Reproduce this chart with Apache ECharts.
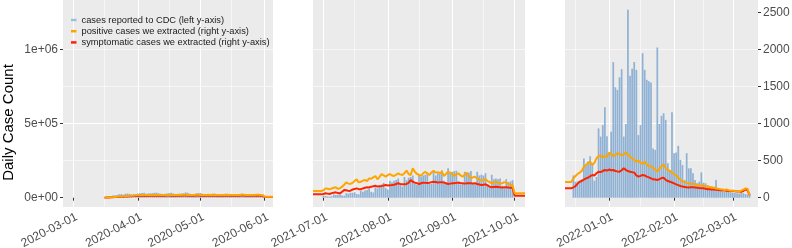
<!DOCTYPE html>
<html><head><meta charset="utf-8">
<script src="https://cdn.jsdelivr.net/npm/echarts@6/dist/echarts.min.js"></script>
<style>html,body{margin:0;padding:0;background:#fff}#c{width:792px;height:248px}</style>
</head><body><div id="c"></div>
<script>
// ---------- data ----------
const panelRanges = [['2020-02-25','2020-06-05'], ['2021-06-26','2021-10-06'], ['2021-12-11','2022-03-13']];
const xTicks1 = ['2020-03-01','2020-04-01','2020-05-01','2020-06-01'];
const xTicks2 = ['2021-07-01','2021-08-01','2021-09-01','2021-10-01'];
const xTicks3 = ['2022-01-01','2022-02-01','2022-03-01'];
const xMinor1 = ['2020-03-16','2020-04-16','2020-05-16'];
const xMinor2 = ['2021-07-16','2021-08-16','2021-09-16'];
const xMinor3 = ['2021-12-16','2022-01-16','2022-02-15'];
const yLeftTicks = [0, 500000, 1000000];
const yLeftLabels = ['0e+00', '5e+05', '1e+06'];
const yRightTicks = [0, 500, 1000, 1500, 2000, 2500];
const secFactor = 500; // cases per right-axis unit

// Panel 1 (2020)
const cdc1Start = '2020-03-16';
const cdc1 = [4500,5500,7000,10000,14000,17000,19000,23000,24000,20000,27000,28000,26000,22000,25000,25000,
 28000,30000,32000,33000,27000,29000,30000,31000,33000,34000,30000,27000,25000,26000,29000,30000,33000,29000,26000,26000,27000,28000,30000,36000,33000,27000,23000,25000,28000,30000,
 32000,28000,25000,22000,23000,25000,27000,28000,25000,21000,19000,21000,22000,27000,25000,24000,22000,21000,21000,22000,28000,24000,22000,20000,19000,17000,19000,21000,23000,24000,22000];
const pos1Start = '2020-03-16';
const pos1 = [0,3,4,7,8,11,12,15,16,19,21,22,26,27,31,32,
 34,33,36,38,33,35,37,36,39,38,35,33,36,37,38,40,38,35,34,37,39,38,40,41,37,35,36,38,40,39,
 38,36,34,37,39,38,40,37,35,34,36,38,39,37,36,35,33,36,38,37,39,41,38,36,35,37,38,40,39,36,34,
 14,14,14,14,14];
const sym1Start = '2020-03-16';
const sym1 = [0,2,3,5,6,8,9,11,12,14,15,17,19,20,22,23,
 24,23,26,27,24,25,27,26,28,27,25,24,26,27,28,29,27,25,24,26,28,27,29,29,26,25,26,27,29,28,
 27,26,24,26,28,27,29,26,25,24,26,27,28,26,25,25,23,26,27,26,28,29,27,25,25,26,27,28,27,25,24,
 8,8,8,8,8];

// Panel 2 (2021 summer)
const cdc2Start = '2021-07-01';
const cdc2 = [14000,12000,9000,8000,10000,22000,18000,
 20000,24000,15000,13000,30000,28000,33000,
 33000,36000,25000,22000,47000,40000,48000,
 52000,60000,40000,35000,70000,62000,80000,
 88000,100000,65000,55000,115000,105000,115000,
 120000,130000,85000,75000,140000,118000,135000,
 140000,150000,95000,85000,160000,140000,150000,
 155000,170000,105000,95000,175000,150000,165000,
 165000,185000,115000,100000,198000,170000,175000,
 180000,182000,110000,90000,95000,175000,165000,
 170000,180000,100000,88000,175000,150000,155000,
 150000,165000,90000,80000,155000,125000,130000,
 125000,130000,80000,70000,125000,105000,110000,
 118000];
const pos2Start = '2021-06-26';
const pos2 = [90,90,90,90,90,
 100,126,120,113,125,135,140,117,130,149,
 175,207,190,185,200,225,248,207,215,230,
 239,225,261,255,275,293,248,280,320,300,
 284,305,320,300,293,310,329,315,306,330,
 365,320,306,396,350,320,310,293,330,351,
 325,306,340,365,338,345,330,351,293,320,
 351,335,320,293,315,329,300,284,310,338,
 290,261,275,284,260,245,230,240,248,225,
 210,194,205,216,200,190,194,210,203,185,175,171,
 59,59,59,60,60,60];
const sym2Start = '2021-06-26';
const sym2 = [45,45,45,45,45,
 50,59,55,50,62,68,72,62,59,80,
 104,100,92,95,110,118,126,115,113,125,
 135,140,138,149,155,162,150,155,158,165,
 171,165,168,171,175,185,194,185,180,182,
 185,200,239,215,203,195,185,195,203,200,
 198,203,210,216,212,205,207,210,203,195,
 185,190,194,196,200,203,198,194,190,194,
 196,194,192,194,185,178,171,175,180,165,
 150,140,145,149,145,140,138,140,142,138,135,133,
 27,27,27,27,27,27];

// Panel 3 (2021-22 winter)
const cdc3Start = '2021-12-15';
const cdc3 = [150000,107500,110000,115000,125000,265000,215000,245000,280000,235000,115000,140000,
 467500,412500,490000,610000,415000,300000,445000,915000,745000,727500,812500,867500,412500,497500,
 1267500,822500,870000,915000,862500,422500,490000,975000,862500,795000,785000,777500,332500,322500,
 1013500,497500,552500,570000,525000,232500,187500,576500,300000,305000,350000,255000,220000,120000,
 300000,198000,198000,165000,120000,97500,108000,171000,101500,97500,85000,75000,60000,63000,119500,
 56500,52000,47500,40500,40000,45000,37500,35000,32500,30000,27500,32500,30000,25000,22500,27500];
const pos3Start = '2021-12-11';
const pos3 = [212,212,212,212,
 260,293,320,338,360,420,441,470,486,
 441,470,530,563,570,545,560,554,
 608,590,560,577,600,590,570,585,608,
 580,550,532,510,486,500,470,455,486,450,
 419,430,400,380,351,390,419,450,400,374,360,338,320,
 300,270,240,220,210,200,195,185,190,180,175,168,160,165,155,150,145,140,135,125,
 120,115,110,104,110,100,95,98,90,85,88,95,110,126,120,36];
const sym3Start = '2021-12-11';
const sym3 = [126,126,126,126,
 140,155,190,216,225,245,261,270,290,306,
 300,330,351,345,360,374,365,380,370,374,
 360,355,351,370,396,375,360,351,345,338,
 300,284,295,306,300,285,275,260,248,245,
 239,250,265,270,240,225,216,205,194,180,
 170,158,150,145,140,138,142,140,138,135,
 130,126,128,120,115,113,110,112,108,104,
 100,104,98,95,92,90,90,88,85,82,
 81,90,113,100,36];

const seriesNames = ['cases reported to CDC (left y-axis)', 'positive cases we extracted (right y-axis)', 'symptomatic cases we extracted (right y-axis)'];
const yTitle = 'Daily Case Count';

// ---------- helpers ----------
function dayRange(a, b) {
  const out = []; let t = Date.parse(a + 'T00:00:00Z'); const e = Date.parse(b + 'T00:00:00Z');
  while (t <= e) { out.push(new Date(t).toISOString().slice(0, 10)); t += 86400000; }
  return out;
}
function alignTo(dates, start, values) {
  const idx = dates.indexOf(start);
  return dates.map((d, i) => { const k = i - idx; return (k >= 0 && k < values.length) ? values[k] : '-'; });
}

const panels = [
  { cdc: [cdc1Start, cdc1], pos: [pos1Start, pos1], sym: [sym1Start, sym1], ticks: xTicks1, minor: xMinor1 },
  { cdc: [cdc2Start, cdc2], pos: [pos2Start, pos2], sym: [sym2Start, sym2], ticks: xTicks2, minor: xMinor2 },
  { cdc: [cdc3Start, cdc3], pos: [pos3Start, pos3], sym: [sym3Start, sym3], ticks: xTicks3, minor: xMinor3 }
];

// ---------- style ----------
const FONT = 'Liberation Sans';
const BAR = 'rgb(143,177,212)';
const ORANGE = '#FFA500';
const RED = '#FF2400';
const leftMin = -62750, leftMax = 1333800;
const gridBoxes = [ {left: 63, width: 210}, {left: 313, width: 212}, {left: 565, width: 193} ];
const gridTop = 0, gridHeight = 207;

const grid = [], xAxis = [], yAxis = [], series = [];
panels.forEach((p, g) => {
  const dates = dayRange(panelRanges[g][0], panelRanges[g][1]);
  grid.push({ left: gridBoxes[g].left, width: gridBoxes[g].width, top: gridTop, height: gridHeight,
    show: true, backgroundColor: '#EBEBEB', borderWidth: 0, containLabel: false, outerBoundsMode: 'none' });
  const isTick = (i, v) => p.ticks.indexOf(v) >= 0;
  xAxis.push({ type: 'category', gridIndex: g, data: dates, boundaryGap: false,
    axisLine: { show: false },
    axisTick: { show: true, interval: isTick, length: 3, lineStyle: { color: '#333', width: 1 } },
    axisLabel: { show: false, interval: isTick },
    splitLine: { show: true, interval: isTick, lineStyle: { color: '#FFFFFF', width: 1.1 } } });
  xAxis.push({ type: 'category', gridIndex: g, data: dates, boundaryGap: false, position: 'bottom',
    axisLine: { show: false }, axisTick: { show: false }, axisLabel: { show: false },
    splitLine: { show: true, interval: (i, v) => p.minor.indexOf(v) >= 0, lineStyle: { color: '#FFFFFF', width: 0.55 } } });
  yAxis.push({ type: 'value', gridIndex: g, position: 'left', min: leftMin, max: leftMax,
    minInterval: 500000, maxInterval: 500000,
    axisLine: { show: false },
    axisTick: { show: g === 0, length: 3, customValues: yLeftTicks, lineStyle: { color: '#333', width: 1 } },
    axisLabel: { show: g === 0, customValues: yLeftTicks, fontSize: 12, color: '#4D4D4D', fontFamily: FONT, margin: 5,
      formatter: v => yLeftLabels[yLeftTicks.indexOf(v)] || '' },
    splitLine: { show: true, showMinLine: false, showMaxLine: false, lineStyle: { color: '#FFFFFF', width: 1.1 } } });
  yAxis.push({ type: 'value', gridIndex: g, position: 'right', min: leftMin / secFactor, max: leftMax / secFactor,
    minInterval: 500, maxInterval: 500,
    axisLine: { show: false },
    axisTick: { show: g === 2, length: 3, customValues: yRightTicks, lineStyle: { color: '#333', width: 1 } },
    axisLabel: { show: g === 2, customValues: yRightTicks, fontSize: 12, color: '#4D4D4D', fontFamily: FONT, margin: 5,
      formatter: v => String(v) },
    splitLine: { show: true, showMinLine: false, showMaxLine: false, lineStyle: { color: '#FFFFFF', width: 0.55 } } });
  series.push({ name: seriesNames[0], type: 'bar', xAxisIndex: 2 * g, yAxisIndex: 2 * g,
    data: alignTo(dates, p.cdc[0], p.cdc[1]), barWidth: '82%', itemStyle: { color: BAR }, animation: false });
  series.push({ name: seriesNames[2], type: 'line', xAxisIndex: 2 * g, yAxisIndex: 2 * g + 1,
    data: alignTo(dates, p.sym[0], p.sym[1]), showSymbol: false, symbol: 'none',
    lineStyle: { color: RED, width: 2 }, itemStyle: { color: RED }, animation: false });
  series.push({ name: seriesNames[1], type: 'line', xAxisIndex: 2 * g, yAxisIndex: 2 * g + 1,
    data: alignTo(dates, p.pos[0], p.pos[1]), showSymbol: false, symbol: 'none',
    lineStyle: { color: ORANGE, width: 2 }, itemStyle: { color: ORANGE }, animation: false });
});

const chart = echarts.init(document.getElementById('c'), null, { renderer: 'canvas' });
chart.setOption({
  animation: false,
  grid, xAxis, yAxis, series,
  legend: { left: 71, top: 14.5, orient: 'vertical', padding: 0, itemWidth: 5.5, itemHeight: 2.5, itemGap: 0.2, icon: 'rect',
    selectedMode: false,
    textStyle: { fontSize: 9.3, color: '#1A1A1A', fontFamily: FONT, lineHeight: 11 },
    data: [ { name: seriesNames[0], itemStyle: { color: '#9EBEDD' } },
            { name: seriesNames[1], itemStyle: { color: ORANGE } },
            { name: seriesNames[2], itemStyle: { color: RED } } ] }
});

// rotated date tick labels, placed at the positions given by each panel's x axis
const elements = [ { type: 'text', id: 'ytitle', x: 8.5, y: 122.5, rotation: Math.PI / 2,
    style: { text: yTitle, fontSize: 15, fontFamily: FONT, fill: '#000',
      textAlign: 'center', textVerticalAlign: 'middle', align: 'center', verticalAlign: 'middle' } } ];
panels.forEach((p, g) => {
  p.ticks.forEach((d, k) => {
    const px = chart.convertToPixel({ xAxisIndex: 2 * g }, d);
    elements.push({ type: 'text', id: 'xl' + g + '_' + k, x: px + 0.5, y: gridTop + gridHeight + 4, rotation: 27 * Math.PI / 180,
      style: { text: d, fontSize: 12, fontFamily: FONT, fill: '#4D4D4D',
        textAlign: 'right', textVerticalAlign: 'top', align: 'right', verticalAlign: 'top' } });
  });
});
chart.setOption({ graphic: { elements } });
</script></body></html>
